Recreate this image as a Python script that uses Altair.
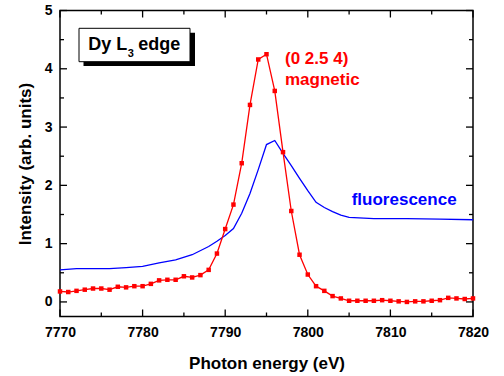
import altair as alt
import pandas as pd

# --- data ---
mag_energy = list(range(7770, 7821))
mag_intensity = [0.18, 0.17, 0.19, 0.21, 0.23, 0.23, 0.21, 0.26, 0.25, 0.27,
                 0.27, 0.31, 0.37, 0.38, 0.38, 0.44, 0.42, 0.46, 0.55, 0.83,
                 1.25, 1.67, 2.38, 3.38, 4.16, 4.25, 3.62, 2.57, 1.56, 0.81,
                 0.47, 0.27, 0.19, 0.10, 0.06, 0.02, 0.02, 0.02, 0.02, 0.03,
                 0.02, 0.01, 0.00, 0.01, 0.01, 0.02, 0.03, 0.07, 0.06, 0.05,
                 0.06]

flu_energy = [7770, 7772, 7774, 7776, 7778, 7780, 7782, 7784, 7786, 7788,
              7789, 7790, 7791, 7792, 7793, 7794, 7795, 7796, 7797, 7798,
              7799, 7800, 7801, 7802, 7803, 7804, 7805, 7808, 7812, 7816, 7820]
flu_intensity = [0.55, 0.57, 0.57, 0.57, 0.59, 0.61, 0.67, 0.72, 0.81, 0.95,
                 1.04, 1.14, 1.26, 1.52, 1.86, 2.27, 2.70, 2.77, 2.55, 2.34,
                 2.12, 1.91, 1.71, 1.62, 1.55, 1.49, 1.45, 1.43, 1.43, 1.42, 1.41]

x_major = [7770, 7780, 7790, 7800, 7810, 7820]
x_minor = [7775, 7785, 7795, 7805, 7815]
y_major = [0, 1, 2, 3, 4, 5]
y_minor = [0.5, 1.5, 2.5, 3.5, 4.5]

W, H = 413, 306
FONT = "Liberation Sans"

mag = pd.DataFrame({"E": mag_energy, "I": mag_intensity})
flu = pd.DataFrame({"E": flu_energy, "I": flu_intensity})

xs = alt.Scale(domain=[7770, 7820], nice=False, zero=False)
ys = alt.Scale(domain=[-0.25, 5], nice=False, zero=False)

x_axis = alt.Axis(values=x_major, format="d", ticks=False, domain=False, grid=False,
                  labelFlush=False, labelOverlap=False,
                  labelFont=FONT, labelFontSize=14, labelFontWeight="bold",
                  labelPadding=9, labelColor="black",
                  title="Photon energy (eV)", titleFont=FONT, titleFontSize=17,
                  titleFontWeight="bold", titlePadding=16, titleColor="black")
y_axis = alt.Axis(values=y_major, format="d", ticks=False, domain=False, grid=False,
                  labelFlush=False, labelOverlap=False,
                  labelFont=FONT, labelFontSize=14, labelFontWeight="bold",
                  labelPadding=8, labelColor="black",
                  title="Intensity (arb. units)", titleFont=FONT, titleFontSize=17,
                  titleFontWeight="bold", titlePadding=10, titleColor="black")

flu_line = alt.Chart(flu).mark_line(color="#0000ff", strokeWidth=1.3).encode(
    x=alt.X("E:Q", scale=xs, axis=x_axis),
    y=alt.Y("I:Q", scale=ys, axis=y_axis),
)
mag_line = alt.Chart(mag).mark_line(
    color="#ff0000", strokeWidth=1.3,
    point=alt.OverlayMarkDef(shape="square", filled=True, size=20, color="#ff0000", opacity=1),
).encode(
    x=alt.X("E:Q", scale=xs),
    y=alt.Y("I:Q", scale=ys),
)

def xticks(vals, length):
    df = pd.DataFrame({"v": vals})
    bot = alt.Chart(df).mark_rule(color="black", strokeWidth=1.3).encode(
        x=alt.X("v:Q", scale=xs), y=alt.value(H), y2=alt.value(H - length))
    top = alt.Chart(df).mark_rule(color="black", strokeWidth=1.3).encode(
        x=alt.X("v:Q", scale=xs), y=alt.value(0), y2=alt.value(length))
    return [bot, top]

def yticks(vals, length):
    df = pd.DataFrame({"v": vals})
    left = alt.Chart(df).mark_rule(color="black", strokeWidth=1.3).encode(
        y=alt.Y("v:Q", scale=ys), x=alt.value(0), x2=alt.value(length))
    right = alt.Chart(df).mark_rule(color="black", strokeWidth=1.3).encode(
        y=alt.Y("v:Q", scale=ys), x=alt.value(W), x2=alt.value(W - length))
    return [left, right]

one = pd.DataFrame({"a": [0]})
shadow = alt.Chart(one).mark_rect(color="black").encode(
    x=alt.value(23.5), x2=alt.value(135), y=alt.value(22.2), y2=alt.value(55.5))
box = alt.Chart(one).mark_rect(fill="white", stroke="black", strokeWidth=1).encode(
    x=alt.value(19), x2=alt.value(130), y=alt.value(17.8), y2=alt.value(51.2))

def label(txt, x, y, size, color="black"):
    return alt.Chart(one).mark_text(
        text=txt, align="left", baseline="alphabetic", font=FONT,
        fontSize=size, fontWeight="bold", color=color,
    ).encode(x=alt.value(x), y=alt.value(y))

texts = [
    label("Dy L", 28.3, 39.5, 18),
    label("3", 67.7, 46.8, 11),
    label("edge", 78.3, 39.5, 18),
    label("(0 2.5 4)", 225, 53.5, 17, "#ff0000"),
    label("magnetic", 225, 74.5, 17, "#ff0000"),
    label("fluorescence", 291.7, 194.5, 17, "#0000ff"),
]

layers = [flu_line, mag_line] + xticks(x_major, 7) + xticks(x_minor, 4) \
    + yticks(y_major, 7) + yticks(y_minor, 4) + [shadow, box] + texts

chart = alt.layer(*layers).properties(
    width=W, height=H,
    autosize=alt.AutoSizeParams(type="none"),
    padding={"left": 60, "top": 10.5, "right": 31, "bottom": 59.5},
    background="white",
).configure_view(stroke="black", strokeWidth=1.5)

chart.save("out.html", embed_options={"renderer": "svg", "actions": False})
